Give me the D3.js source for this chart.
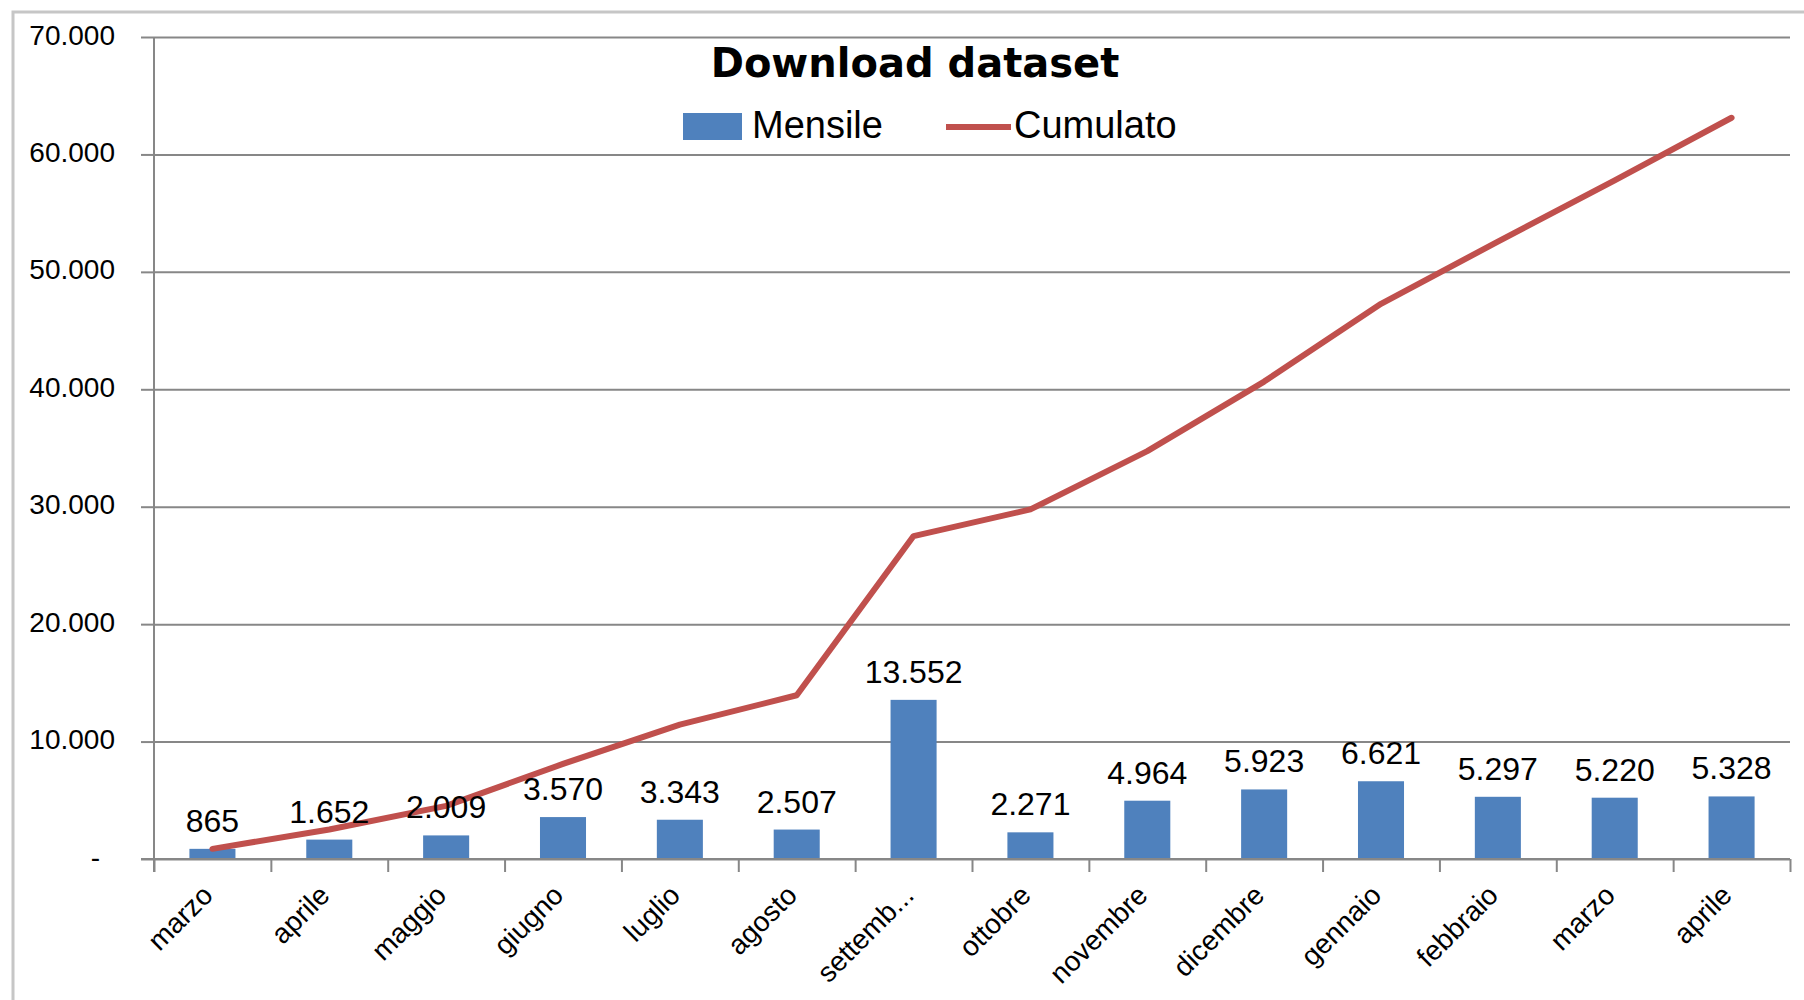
<!DOCTYPE html>
<html lang="it">
<head>
<meta charset="UTF-8">
<title>Download dataset</title>
<style>
  body { margin: 0; background: #fff; }
  svg { display: block; }
  text { font-family: "Liberation Sans", Arial, sans-serif; fill: #000; }
</style>
</head>
<body>
<svg width="1804" height="1000"></svg>
<script src="https://cdn.jsdelivr.net/npm/d3@7"></script>
<script>
// values
var tickLabels = ["marzo", "aprile", "maggio", "giugno", "luglio", "agosto", "settemb...",
                  "ottobre", "novembre", "dicembre", "gennaio", "febbraio", "marzo", "aprile"];
var mensile = [865, 1652, 2009, 3570, 3343, 2507, 13552, 2271, 4964, 5923, 6621, 5297, 5220, 5328];
var cumulato = [865, 2517, 4526, 8096, 11439, 13946, 27498, 29769, 34733, 40656, 47277, 52574, 57794, 63122];
var yTicks = [0, 10000, 20000, 30000, 40000, 50000, 60000, 70000];

var it = d3.formatLocale({decimal: ",", thousands: ".", grouping: [3], currency: ["€", ""]});
var fmt = it.format(",d");

var svg = d3.select("svg");
var plotL = 154, plotR = 1790, plotT = 37, plotB = 859;
var gridColor = "#878787";

// chart frame (runs off the right / bottom of the picture)
svg.append("rect")
    .attr("x", 13).attr("y", 12)
    .attr("width", 1900).attr("height", 1100)
    .attr("fill", "#fff")
    .attr("stroke", "#c6c6c6")
    .attr("stroke-width", 3);

var x = d3.scaleBand()
    .domain(d3.range(mensile.length))
    .range([plotL, plotR])
    .paddingInner(0.606)
    .paddingOuter(0.303);
var xb = d3.scaleLinear().domain([0, mensile.length]).range([plotL, plotR]);
var y = d3.scaleLinear().domain([0, 70000]).range([plotB, plotT]);

// gridlines
var grid = svg.append("g")
    .attr("transform", "translate(" + plotL + ",0)")
    .call(d3.axisLeft(y).tickValues(yTicks).tickSize(-(plotR - plotL)).tickFormat(""));
grid.select(".domain").remove();
grid.selectAll("line").attr("stroke", gridColor).attr("stroke-width", 2);

// y axis
var yAxis = svg.append("g")
    .attr("transform", "translate(" + plotL + ",0)")
    .call(d3.axisLeft(y).tickValues(yTicks).tickSize(13).tickPadding(26)
        .tickFormat(function (d) { return d === 0 ? "-" : fmt(d); }));
yAxis.select(".domain").attr("stroke", gridColor).attr("stroke-width", 2)
    .attr("d", "M0," + plotT + "V" + (plotB + 13));
yAxis.selectAll("line").attr("stroke", gridColor).attr("stroke-width", 2);
yAxis.selectAll("text")
    .style("font-family", "'Liberation Sans', Arial, sans-serif")
    .style("font-size", "28px")
    .attr("fill", "#000")
    .attr("dy", "0.25em")
    .attr("dx", function (d) { return d === 0 ? -15 : 0; });

// bars
svg.append("g").selectAll("rect")
    .data(mensile)
    .join("rect")
    .attr("x", function (d, i) { return x(i); })
    .attr("y", function (d) { return y(d); })
    .attr("width", x.bandwidth())
    .attr("height", function (d) { return y(0) - y(d); })
    .attr("fill", "#4F81BD");

// x axis: boundary ticks
var xTicks = svg.append("g")
    .attr("transform", "translate(0," + plotB + ")")
    .call(d3.axisBottom(xb).tickValues(d3.range(mensile.length + 1)).tickSize(13).tickFormat(""));
xTicks.select(".domain").attr("stroke", gridColor).attr("stroke-width", 2)
    .attr("d", "M" + (plotL - 13) + ",0H" + plotR);
xTicks.selectAll("line").attr("stroke", gridColor).attr("stroke-width", 2);

// x axis: category labels
var xLabels = svg.append("g")
    .attr("transform", "translate(0," + plotB + ")")
    .call(d3.axisBottom(x).tickSize(0).tickFormat(function (i) { return tickLabels[i]; }));
xLabels.select(".domain").remove();
xLabels.selectAll("text")
    .style("font-family", "'Liberation Sans', Arial, sans-serif")
    .style("font-size", "28px")
    .attr("fill", "#000")
    .attr("text-anchor", "end")
    .attr("y", 0).attr("dy", 0)
    .attr("transform", "translate(2,38) rotate(-45)");

// cumulative line
var line = d3.line()
    .x(function (d, i) { return x(i) + x.bandwidth() / 2; })
    .y(function (d) { return y(d); });
svg.append("path")
    .datum(cumulato)
    .attr("d", line)
    .attr("fill", "none")
    .attr("stroke", "#C0504D")
    .attr("stroke-width", 6)
    .attr("stroke-linejoin", "round")
    .attr("stroke-linecap", "round");

// data labels
svg.append("g").selectAll("text")
    .data(mensile)
    .join("text")
    .attr("x", function (d, i) { return x(i) + x.bandwidth() / 2; })
    .attr("y", function (d) { return y(d) - 17; })
    .attr("text-anchor", "middle")
    .style("font-size", "32px")
    .text(function (d) { return fmt(d); });

// title
svg.append("text")
    .attr("x", 915).attr("y", 77)
    .attr("text-anchor", "middle")
    .style("font-family", "'DejaVu Sans', sans-serif")
    .style("font-weight", "bold")
    .style("font-size", "40px")
    .text("Download dataset");

// legend
var legend = svg.append("g").attr("transform", "translate(683,113)");
legend.append("rect").attr("x", 0).attr("y", 0).attr("width", 59).attr("height", 27).attr("fill", "#4F81BD");
legend.append("text").attr("x", 69).attr("y", 25).style("font-size", "38px").text("Mensile");
legend.append("line").attr("x1", 263).attr("x2", 328).attr("y1", 14).attr("y2", 14)
    .attr("stroke", "#C0504D").attr("stroke-width", 6);
legend.append("text").attr("x", 331).attr("y", 25).style("font-size", "38px").text("Cumulato");
</script>
</body>
</html>
